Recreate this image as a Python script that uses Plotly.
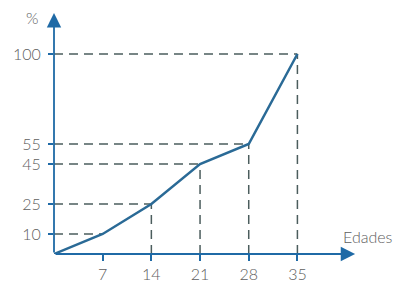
import plotly.graph_objects as go

ages = [0, 7, 14, 21, 28, 35]
percent = [0, 10, 25, 45, 55, 100]
x_ticks = [7, 14, 21, 28, 35]
y_ticks = [10, 25, 45, 55, 100]

LINE = "#2a6a96"
AXIS = "#1f6aa6"
DASH = "#4b5d5d"
TXT = "#5e5e5e"
FONT = "Lato"

fig = go.Figure()

shapes = []
for a, p in zip(ages[1:], percent[1:]):
    shapes.append(dict(type="line", xref="x", yref="y", x0=0, x1=a, y0=p, y1=p,
                       line=dict(color=DASH, width=1.5, dash="9px,6px"), layer="below"))
    if a != 7:
        shapes.append(dict(type="line", xref="x", yref="y", x0=a, x1=a, y0=0, y1=p,
                           line=dict(color=DASH, width=1.5, dash="9px,6px"), layer="below"))

fig.add_trace(go.Scatter(x=ages, y=percent, mode="lines",
                         line=dict(color=LINE, width=2.5), hoverinfo="skip",
                         showlegend=False))

tf = dict(family=FONT, size=16, color=TXT, weight=300)

annotations = [
    dict(x=43.3, y=0, ax=0, ay=0, xref="x", yref="y", axref="x", ayref="y",
         text="", showarrow=True, arrowhead=2, arrowsize=1.6, arrowwidth=1.8,
         arrowcolor=AXIS),
    dict(x=0, y=120.5, ax=0, ay=0, xref="x", yref="y", axref="x", ayref="y",
         text="", showarrow=True, arrowhead=2, arrowsize=1.6, arrowwidth=1.8,
         arrowcolor=AXIS),
    dict(x=-0.072, y=0.971, xref="paper", yref="paper", text="%", showarrow=False,
         xanchor="center", yanchor="middle", font=tf),
    dict(x=1.026, y=0.07, xref="paper", yref="paper", text="Edades", showarrow=False,
         xanchor="center", yanchor="middle", font=tf),
]

fig.update_layout(
    width=398, height=282,
    margin=dict(l=54, r=38, t=10, b=28),
    paper_bgcolor="white", plot_bgcolor="white",
    shapes=shapes, annotations=annotations,
    xaxis=dict(range=[0, 44], tickvals=x_ticks, ticktext=[str(v) for v in x_ticks],
               showgrid=False, zeroline=False, showline=False, automargin=False,
               ticks="outside", ticklen=6, tickwidth=1.5, tickcolor=AXIS,
               tickfont=tf),
    yaxis=dict(range=[0, 122], tickvals=y_ticks, ticktext=[str(v) for v in y_ticks],
               showgrid=False, zeroline=False, showline=False, automargin=False,
               ticks="outside", ticklen=5, tickwidth=1.5, tickcolor=AXIS,
               ticklabelstandoff=4, tickfont=tf),
)

fig.write_html("out.html", config={"displayModeBar": False},
               post_script="document.body.style.margin='0';document.body.style.overflow='hidden';")
